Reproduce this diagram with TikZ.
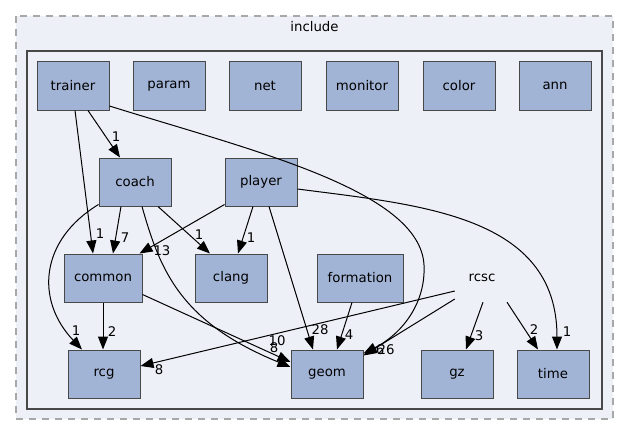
\documentclass[tikz,border=0pt]{standalone}
\usepackage{fontspec}
\setmainfont{DejaVu Sans}
\usetikzlibrary{arrows.meta,calc}
\definecolor{clusterfill}{HTML}{EDF0F7}
\definecolor{nodefill}{HTML}{A2B4D6}
\definecolor{nodeedge}{HTML}{484848}
\definecolor{dashgray}{HTML}{A8A8A8}
\begin{document}
\begin{tikzpicture}[x=1pt,y=-1pt,
  font=\fontsize{13.3}{15}\selectfont,
  dirbox/.style={draw=nodeedge, line width=1pt, fill=nodefill,
    minimum width=72pt, minimum height=48pt, inner sep=0pt},
  plain/.style={minimum width=56pt, minimum height=48pt, inner sep=0pt},
  dep/.style={draw=black, line width=1pt,
    -{Triangle[length=13pt,width=10pt]}},
  cnt/.style={inner sep=0pt, font=\fontsize{13.3}{15}\selectfont}
]
\useasboundingbox (0,0) rectangle (629,436);
\fill[white] (0,0) rectangle (629,436);

% outer directory cluster
\draw[dashgray, fill=clusterfill, line width=1.3pt, dash pattern=on 7pt off 6pt]
  (16,16) rectangle (613,419);
\node (includelbl) at (314.5,27) {include};

% inner cluster
\draw[nodeedge, fill=clusterfill, line width=2pt] (27,51.5) rectangle (602,408.5);

% top row
\node[dirbox] (trainer) at (73,86)  {trainer};
\node[dirbox] (param)   at (169,86) {param};
\node[dirbox] (net)     at (265,86) {net};
\node[dirbox] (monitor) at (362,86) {monitor};
\node[dirbox] (color)   at (459,86) {color};
\node[dirbox] (ann)     at (555,86) {ann};

% second row
\node[dirbox] (coach)  at (135,182) {coach};
\node[dirbox] (player) at (261,182) {player};

% third row
\node[dirbox, minimum width=78pt] (common) at (103,278) {common};
\node[dirbox] (clang)     at (231,278) {clang};
\node[dirbox, minimum width=86pt] (formation) at (360,278) {formation};
\node[plain]  (rcsc)      at (482,278) {rcsc};

% bottom row
\node[dirbox] (rcg)  at (104,374) {rcg};
\node[dirbox] (geom) at (327,374) {geom};
\node[dirbox] (gz)   at (457,374) {gz};
\node[dirbox] (time) at (553,374) {time};

% trainer dependencies
\draw[dep] ($(trainer.south)+(2,0)$) -- ($(common.north)+(-10,0)$);
\node[cnt] (l1) at (100,234) {1};
\draw[dep] ($(trainer.south)+(15,0)$) -- ($(coach.north)+(-15,0)$);
\node[cnt] (l2) at (116,137) {1};
\draw[dep] ($(trainer.east)+(0,20)$)
  .. controls (250,150) and (420,190) .. (424,265)
  .. controls (426,305) and (400,335) .. ($(geom.north east)+(0,4)$);
\node[cnt] (l3) at (380,350) {6};

% coach dependencies
\draw[dep] ($(coach.south)+(-14,0)$) -- ($(common.north)+(10,0)$);
\node[cnt] (l4) at (125,238) {7};
\draw[dep] ($(coach.south)+(23,0)$) -- ($(clang.north)+(-21,0)$);
\node[cnt] (l5) at (199,235) {1};
\draw[dep] ($(coach.south west)+(0,-2)$)
  .. controls (40,240) and (35,300) .. ($(rcg.north)+(-22,0)$);
\node[cnt] (l6) at (76,331) {1};
\draw[dep] ($(coach.south)+(7,0)$)
  .. controls (160,270) and (180,322) .. ($(geom.west)+(0,-7)$);
\node[cnt] (l7) at (277,341) {10};

% player dependencies
\draw[dep] ($(player.south west)+(0,-2)$) -- ($(common.north east)+(-3,0)$);
\node[cnt] (l8) at (162,251) {13};
\draw[dep] ($(player.south)+(-8,0)$) -- ($(clang.north)+(7,0)$);
\node[cnt] (l9) at (251,238) {1};
\draw[dep] ($(player.south)+(8,0)$) -- ($(geom.north)+(-14,0)$);
\node[cnt] (l10) at (320,330) {28};
\draw[dep] ($(player.east)+(0,7)$)
  .. controls (420,205) and (557,215) .. ($(time.north)+(4,0)$);
\node[cnt] (l11) at (567,332) {1};

% common dependencies
\draw[dep] (common.south) -- ($(rcg.north)+(-1,0)$);
\node[cnt] (l12) at (112,332) {2};
\draw[dep] ($(common.south east)+(0,-8)$) -- ($(geom.west)+(0,-12)$);
\node[cnt] (l13) at (274,348) {8};

% formation dependency
\draw[dep] ($(formation.south)+(-8,0)$) -- ($(geom.north)+(10,0)$);
\node[cnt] (l14) at (349,335) {4};

% rcsc dependencies
\draw[dep] ($(rcsc.west)+(1,13)$) -- ($(rcg.east)+(0,-8)$);
\node[cnt] (l15) at (159,370) {8};
\draw[dep] ($(rcsc.west)+(1,21)$) -- ($(geom.north east)+(0,6)$);
\node[cnt] (l16) at (386,350) {26};
\draw[dep] ($(rcsc.south)+(1,0)$) -- ($(gz.north)+(9,0)$);
\node[cnt] (l17) at (479,336) {3};
\draw[dep] ($(rcsc.south)+(25,0)$) -- ($(time.north)+(-15,0)$);
\node[cnt] (l18) at (534,330) {2};
\end{tikzpicture}
\end{document}
